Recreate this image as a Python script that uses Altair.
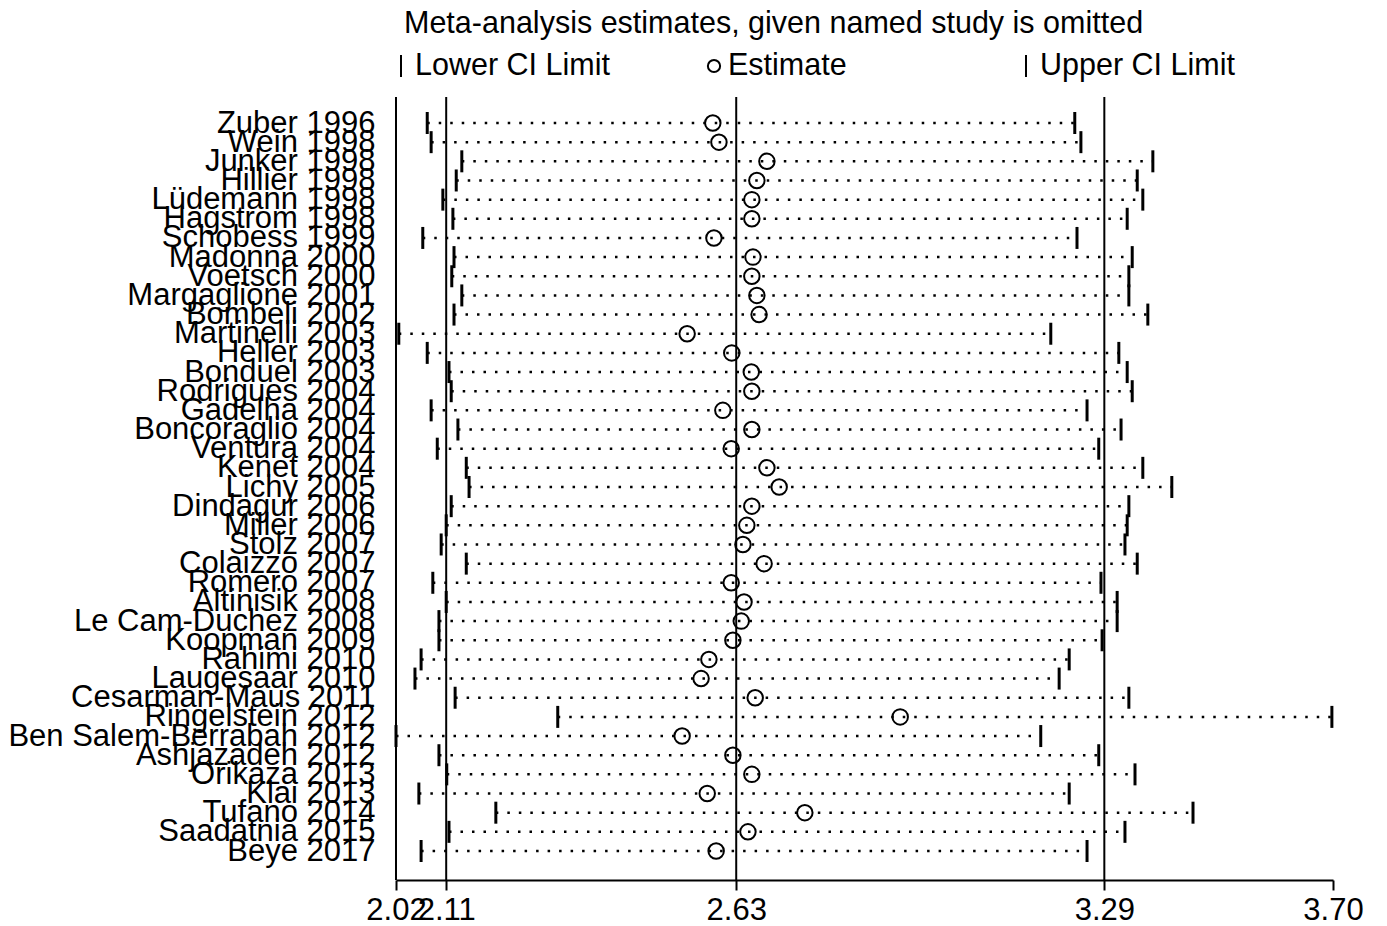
import altair as alt
import pandas as pd

studies = [
    "Zuber 1996", "Wein 1998", "Junker 1998", "Hillier 1998", "Lüdemann 1998",
    "Hagstrom 1998", "Schobess 1999", "Madonna 2000", "Voetsch 2000",
    "Margaglione 2001", "Bombeli 2002", "Martinelli 2003", "Heller 2003",
    "Bonduel 2003", "Rodrigues 2004", "Gadelha 2004", "Boncoraglio 2004",
    "Ventura 2004", "Kenet 2004", "Lichy 2005", "Dindagur 2006", "Miller 2006",
    "Stolz 2007", "Colaizzo 2007", "Romero 2007", "Altinisik 2008",
    "Le Cam-Duchez 2008", "Koopman 2009", "Rahimi 2010", "Laugesaar 2010",
    "Cesarman-Maus 2011", "Ringelstein 2012", "Ben Salem-Berrabah 2012",
    "Ashjazadeh 2012", "Orikaza 2013", "Klai 2013", "Tufano 2014",
    "Saadatnia 2015", "Beye 2017",
]
lower = [
    2.076, 2.083, 2.138, 2.128, 2.104, 2.122, 2.068, 2.124, 2.120, 2.138,
    2.124, 2.025, 2.076, 2.115, 2.119, 2.083, 2.131, 2.094, 2.146, 2.151,
    2.119, 2.110, 2.101, 2.146, 2.086, 2.110, 2.097, 2.097, 2.065, 2.054,
    2.126, 2.310, 2.020, 2.097, 2.111, 2.061, 2.199, 2.115, 2.065,
]
estimate = [
    2.588, 2.599, 2.685, 2.667, 2.658, 2.658, 2.590, 2.660, 2.658, 2.667,
    2.671, 2.542, 2.622, 2.657, 2.658, 2.606, 2.658, 2.621, 2.685, 2.707,
    2.658, 2.649, 2.642, 2.680, 2.621, 2.644, 2.639, 2.624, 2.581, 2.567,
    2.664, 2.924, 2.533, 2.624, 2.658, 2.578, 2.753, 2.651, 2.594,
]
upper = [
    3.237, 3.248, 3.377, 3.349, 3.359, 3.331, 3.241, 3.340, 3.334, 3.334,
    3.368, 3.194, 3.316, 3.331, 3.340, 3.259, 3.320, 3.280, 3.359, 3.411,
    3.334, 3.331, 3.327, 3.349, 3.284, 3.313, 3.313, 3.286, 3.227, 3.209,
    3.334, 3.698, 3.176, 3.280, 3.345, 3.227, 3.449, 3.327, 3.259,
]
axis_ticks = [2.02, 2.11, 2.63, 3.29, 3.70]
ref_lines = [2.11, 2.63, 3.29]
title_text = "Meta-analysis estimates, given named study is omitted"
legend_labels = ["Lower CI Limit", "Estimate", "Upper CI Limit"]

FONT = "Liberation Sans"
FS = 31

df = pd.DataFrame({"study": studies, "lower": lower, "estimate": estimate, "upper": upper})
refs = pd.DataFrame({"v": ref_lines})

x_scale = alt.Scale(domain=[axis_ticks[0], axis_ticks[-1]], nice=False, zero=False)
x_axis = alt.Axis(values=axis_ticks, format=".2f", title=None, grid=False,
                  labelFontSize=FS, labelFont=FONT, labelColor="black",
                  tickSize=10, tickWidth=2, tickColor="black",
                  domainWidth=2, domainColor="black",
                  labelOverlap=False, labelFlush=False, labelPadding=5)
y_enc = alt.Y("study:N", sort=studies,
              scale=alt.Scale(type="point", range=[26, 754], padding=0),
              axis=alt.Axis(title=None, ticks=False, labelFontSize=FS, labelFont=FONT,
                            labelColor="black", labelPadding=21, labelLimit=600,
                            labelOverlap=False, domain=False, grid=False))

base = alt.Chart(df)

dotted = base.mark_rule(color="black", strokeWidth=2.5, strokeDash=[2.5, 9]).encode(
    x=alt.X("lower:Q", scale=x_scale, axis=x_axis), x2="upper:Q", y=y_enc)
low_t = base.mark_tick(color="black", size=22, thickness=3, opacity=1).encode(
    x=alt.X("lower:Q", scale=x_scale, axis=x_axis), y=y_enc)
up_t = base.mark_tick(color="black", size=22, thickness=3, opacity=1).encode(
    x=alt.X("upper:Q", scale=x_scale, axis=x_axis), y=y_enc)
est = base.mark_point(shape="circle", filled=False, color="black", size=240,
                      strokeWidth=2, opacity=1).encode(
    x=alt.X("estimate:Q", scale=x_scale, axis=x_axis), y=y_enc)
ref = alt.Chart(refs).mark_rule(color="black", strokeWidth=2).encode(
    x=alt.X("v:Q", scale=x_scale, axis=x_axis))
left_axis = alt.Chart(refs).mark_rule(color="black", strokeWidth=2).encode(
    x=alt.value(0), y=alt.value(0), y2=alt.value(783))

one = pd.DataFrame({"t": [title_text]})
title_mark = alt.Chart(one).mark_text(align="left", baseline="middle", font=FONT,
                                      fontSize=30.5, color="black").encode(
    x=alt.value(8), y=alt.value(-73), text="t:N")

def leg_text(label, xpos):
    return alt.Chart(pd.DataFrame({"t": [label]})).mark_text(
        align="left", baseline="middle", font=FONT, fontSize=30.5, color="black").encode(
        x=alt.value(xpos), y=alt.value(-31), text="t:N")

leg_lo_sym = alt.Chart(pd.DataFrame({"t": [legend_labels[0]]})).mark_rule(
    color="black", strokeWidth=2).encode(x=alt.value(5), y=alt.value(-42), y2=alt.value(-20))
leg_up_sym = alt.Chart(pd.DataFrame({"t": [legend_labels[2]]})).mark_rule(
    color="black", strokeWidth=2).encode(x=alt.value(630), y=alt.value(-42), y2=alt.value(-20))
leg_est_sym = alt.Chart(pd.DataFrame({"t": [legend_labels[1]]})).mark_point(
    shape="circle", filled=False, color="black", size=150, strokeWidth=2, opacity=1).encode(
    x=alt.value(318), y=alt.value(-31))

chart = alt.layer(
    ref, left_axis, dotted, low_t, up_t, est,
    title_mark,
    leg_lo_sym, leg_text(legend_labels[0], 19),
    leg_est_sym, leg_text(legend_labels[1], 332),
    leg_up_sym, leg_text(legend_labels[2], 644),
).properties(
    width=937, height=783,
    autosize=alt.AutoSizeParams(type="none"),
    padding={"left": 396, "top": 97, "right": 54, "bottom": 46},
    background="white",
).configure_view(stroke=None)

chart.save("out.html", embed_options={"renderer": "svg", "actions": False})
